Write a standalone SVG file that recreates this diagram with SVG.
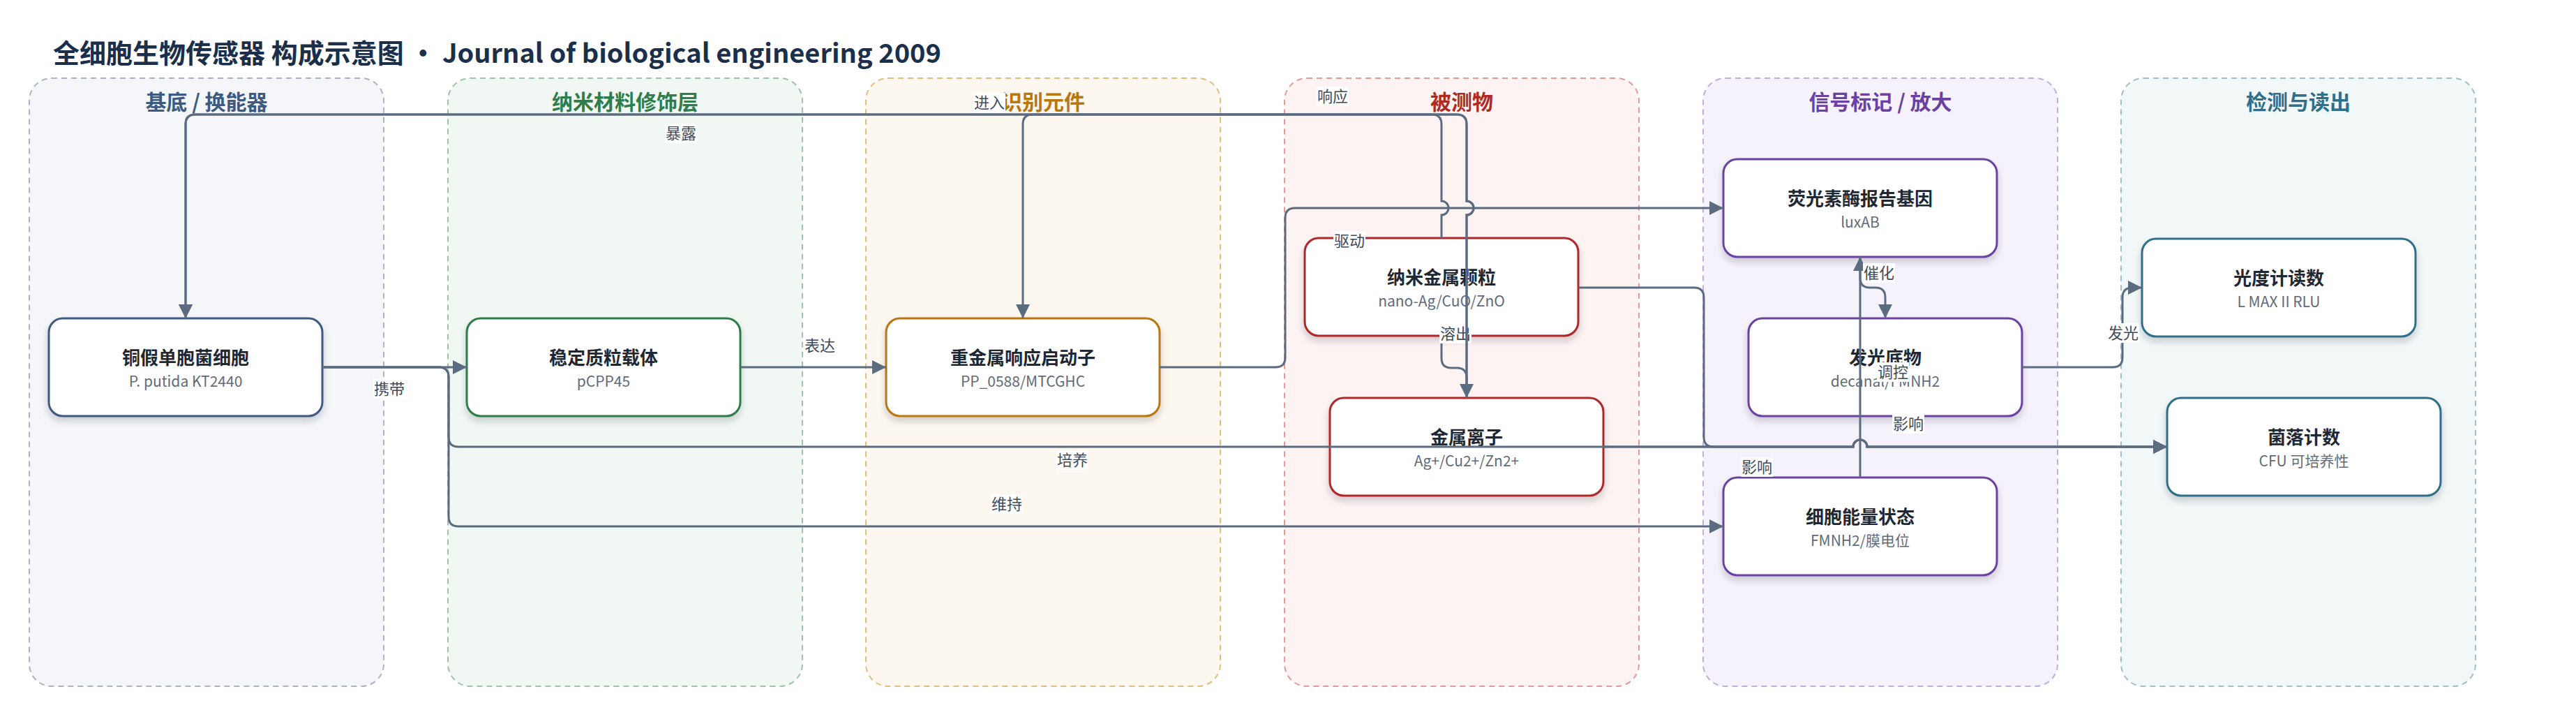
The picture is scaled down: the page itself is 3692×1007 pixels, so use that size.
<svg xmlns="http://www.w3.org/2000/svg" width="3692" height="1007" viewBox="0 0 3692 1007">
<defs>
<style>
text{font-family:"Noto Sans CJK SC","Noto Sans",sans-serif}
.title{font-size:38px;font-weight:700;fill:#1b2f4b}
.lane{stroke-width:2;stroke-dasharray:8 6}
.lt{font-size:30px;font-weight:700;text-anchor:middle}
.node rect{fill:#fff;stroke-width:3;filter:url(#sh)}
.nt{font-size:26px;font-weight:700;fill:#1f2733;text-anchor:middle}
.ns{font-size:21px;fill:#5f6b7b;text-anchor:middle}
.e{fill:none;stroke:#5b6b80;stroke-width:3}
.a{marker-end:url(#arr)}
.lb rect{fill:#fff}
.lb text{font-size:22px;fill:#3f4a5a;text-anchor:middle}
</style>
<filter id="sh" x="-10%" y="-10%" width="120%" height="140%">
<feDropShadow dx="0" dy="6" stdDeviation="5" flood-color="#1f2937" flood-opacity="0.2"/>
</filter>
<marker id="arr" markerUnits="userSpaceOnUse" markerWidth="20" markerHeight="20" refX="20" refY="10" orient="auto" viewBox="0 0 20 20">
<path d="M0,0 L20,10 L0,20 Z" fill="#5b6b80"/>
</marker>
</defs>
<rect width="3692" height="1007" fill="#fff"/>
<text class="title" x="76" y="90">全细胞生物传感器 构成示意图 · Journal of biological engineering 2009</text>

<g id="lanes">
<rect class="lane" x="42" y="112" width="508" height="871" rx="32" fill="#f4f6fa" stroke="#a9b4c6"/>
<rect class="lane" x="642" y="112" width="508" height="871" rx="32" fill="#f1f8f3" stroke="#9cc5a8"/>
<rect class="lane" x="1241" y="112" width="508" height="871" rx="32" fill="#fdf8ef" stroke="#e2bd80"/>
<rect class="lane" x="1841" y="112" width="508" height="871" rx="32" fill="#fdf3f2" stroke="#e59a97"/>
<rect class="lane" x="2441" y="112" width="508" height="871" rx="32" fill="#f6f2fb" stroke="#c3abdf"/>
<rect class="lane" x="3040" y="112" width="508" height="871" rx="32" fill="#f2f7f8" stroke="#9dc0cb"/>
<text class="lt" x="296" y="157" fill="#3d5a80">基底 / 换能器</text>
<text class="lt" x="896" y="157" fill="#2e7d4a">纳米材料修饰层</text>
<text class="lt" x="1495" y="157" fill="#b9770e">识别元件</text>
<text class="lt" x="2095" y="157" fill="#b02a25">被测物</text>
<text class="lt" x="2695" y="157" fill="#6a41a2">信号标记 / 放大</text>
<text class="lt" x="3294" y="157" fill="#2f6f89">检测与读出</text>
</g>

<g id="n1" class="node"><rect x="70" y="456" width="392" height="140" rx="20" stroke="#3e5a82"/><text class="nt" x="266" y="522">铜假单胞菌细胞</text><text class="ns" x="266" y="554">P. putida KT2440</text></g>
<g id="n2" class="node"><rect x="669" y="456" width="392" height="140" rx="20" stroke="#2e7d4a"/><text class="nt" x="865" y="522">稳定质粒载体</text><text class="ns" x="865" y="554">pCPP45</text></g>
<g id="n3" class="node"><rect x="1270" y="456" width="392" height="140" rx="20" stroke="#b9770e"/><text class="nt" x="1466" y="522">重金属响应启动子</text><text class="ns" x="1466" y="554">PP_0588/MTCGHC</text></g>
<g id="n4" class="node"><rect x="1870" y="341" width="392" height="140" rx="20" stroke="#b0282a"/><text class="nt" x="2066" y="407">纳米金属颗粒</text><text class="ns" x="2066" y="439">nano-Ag/CuO/ZnO</text></g>
<g id="n5" class="node"><rect x="1906" y="570" width="392" height="140" rx="20" stroke="#b0282a"/><text class="nt" x="2102" y="636">金属离子</text><text class="ns" x="2102" y="668">Ag+/Cu2+/Zn2+</text></g>
<g id="n6" class="node"><rect x="2470" y="228" width="392" height="140" rx="20" stroke="#6b42a3"/><text class="nt" x="2666" y="294">荧光素酶报告基因</text><text class="ns" x="2666" y="326">luxAB</text></g>
<g id="n7" class="node"><rect x="2506" y="456" width="392" height="140" rx="20" stroke="#6b42a3"/><text class="nt" x="2702" y="522">发光底物</text><text class="ns" x="2702" y="554">decanal/FMNH2</text></g>
<g id="n8" class="node"><rect x="2470" y="684" width="392" height="140" rx="20" stroke="#6b42a3"/><text class="nt" x="2666" y="750">细胞能量状态</text><text class="ns" x="2666" y="782">FMNH2/膜电位</text></g>
<g id="n9" class="node"><rect x="3070" y="342" width="392" height="140" rx="20" stroke="#2f6f89"/><text class="nt" x="3266" y="408">光度计读数</text><text class="ns" x="3266" y="440">L MAX II RLU</text></g>
<g id="n10" class="node"><rect x="3106" y="570" width="392" height="140" rx="20" stroke="#2f6f89"/><text class="nt" x="3302" y="636">菌落计数</text><text class="ns" x="3302" y="668">CFU 可培养性</text></g>

<g id="edges">
<path class="e a" d="M462,526 H669"/>
<g class="lb"><rect x="535" y="543" width="46" height="28"/><text x="558" y="565">携带</text></g>
<path class="e a" d="M1062,526 H1270"/>
<g class="lb"><rect x="1152" y="481" width="46" height="28"/><text x="1175" y="503">表达</text></g>
<path class="e a" d="M1662,526 H1828 Q1842,526 1842,512 V312 Q1842,298 1856,298 H2470"/>
<g class="lb"><rect x="1911" y="331" width="46" height="28"/><text x="1934" y="353">驱动</text></g>
<path class="e a" d="M2066,481 V513 Q2066,527 2080,527 H2088 Q2102,527 2102,541 V570"/>
<g class="lb"><rect x="2063" y="464" width="46" height="28"/><text x="2086" y="486">溶出</text></g>
<path class="e a" d="M2066,341 V308 A10,10 0 0 0 2066,288 V178 Q2066,164 2052,164 H280 Q266,164 266,178 V456"/>
<g class="lb"><rect x="953" y="177" width="46" height="28"/><text x="976" y="199">暴露</text></g>
<path class="e a" d="M2102,570 V308 A10,10 0 0 0 2102,288 V178 Q2102,164 2088,164 H280 Q266,164 266,178 V456"/>
<g class="lb"><rect x="1395" y="133" width="46" height="28"/><text x="1418" y="155">进入</text></g>
<path class="e a" d="M2102,570 V308 A10,10 0 0 0 2102,288 V178 Q2102,164 2088,164 H1480 Q1466,164 1466,178 V456"/>
<g class="lb"><rect x="1887" y="124" width="46" height="28"/><text x="1910" y="146">响应</text></g>
<path class="e a" d="M2666,684 V368"/>
<g class="lb"><rect x="2690" y="519" width="46" height="28"/><text x="2713" y="541">调控</text></g>
<path class="e a" d="M462,526 H629 Q643,526 643,540 V626 Q643,640 657,640 H2656 A10,10 0 0 1 2676,640 H3106"/>
<g class="lb"><rect x="1514" y="645" width="46" height="28"/><text x="1537" y="667">培养</text></g>
<path class="e a" d="M2263,412 H2428 Q2442,412 2442,426 V626 Q2442,640 2456,640 H2656 A10,10 0 0 1 2676,640 H3106"/>
<g class="lb"><rect x="2712" y="593" width="46" height="28"/><text x="2735" y="615">影响</text></g>
<path class="e a" d="M2298,640 H2656 A10,10 0 0 1 2676,640 H3106"/>
<g class="lb"><rect x="2495" y="655" width="46" height="28"/><text x="2518" y="677">影响</text></g>
<path class="e a" d="M462,526 H629 Q643,526 643,540 V740 Q643,754 657,754 H2470"/>
<g class="lb"><rect x="1420" y="708" width="46" height="28"/><text x="1443" y="730">维持</text></g>
<path class="e a" d="M2666,368 V398 Q2666,412 2680,412 H2688 Q2702,412 2702,426 V456"/>
<g class="lb"><rect x="2670" y="377" width="46" height="28"/><text x="2693" y="399">催化</text></g>
<path class="e a" d="M2898,526 H3028 Q3042,526 3042,512 V426 Q3042,412 3056,412 H3070"/>
<g class="lb"><rect x="3020" y="463" width="46" height="28"/><text x="3043" y="485">发光</text></g>
</g>
</svg>
